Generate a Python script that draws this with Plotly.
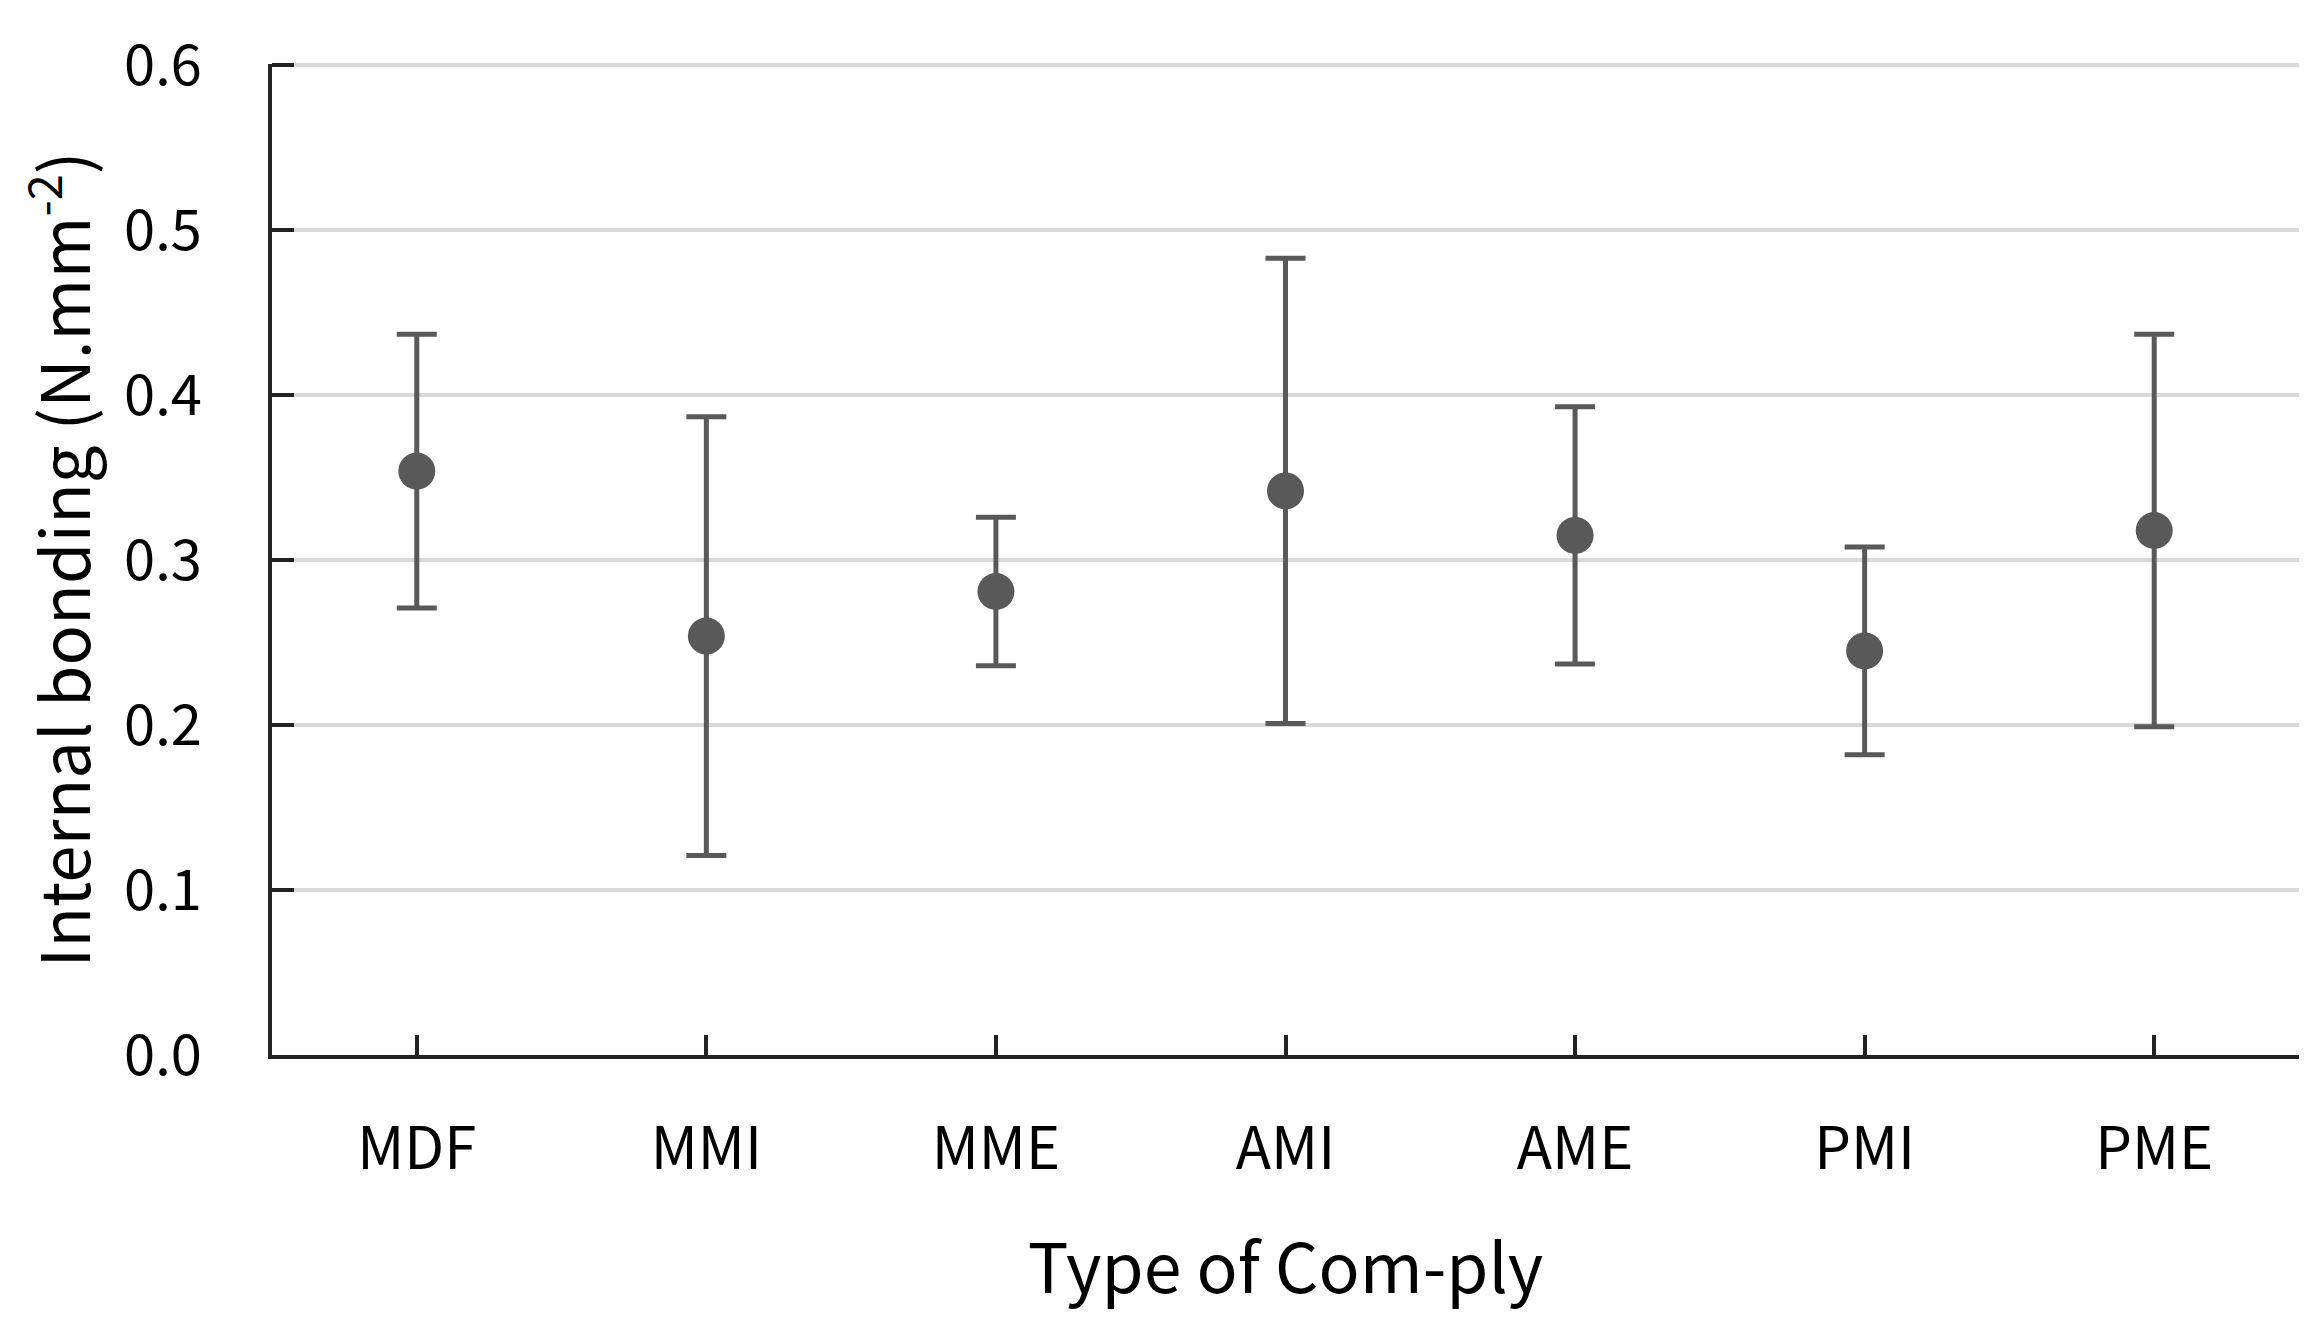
import plotly.graph_objects as go

categories = ["MDF", "MMI", "MME", "AMI", "AME", "PMI", "PME"]
mean_ib = [0.354, 0.254, 0.281, 0.342, 0.315, 0.245, 0.318]
err_ib = [0.083, 0.133, 0.045, 0.141, 0.078, 0.063, 0.119]
y_ticks = [0.0, 0.1, 0.2, 0.3, 0.4, 0.5, 0.6]
y_ticklabels = ["0.0", "0.1", "0.2", "0.3", "0.4", "0.5", "0.6"]

FONT = "Noto Sans CJK KR"
DARK = "#595959"

fig = go.Figure()
fig.add_trace(go.Scatter(
    x=categories, y=mean_ib, mode="markers",
    marker=dict(size=37, color=DARK),
    error_y=dict(type="data", array=err_ib, visible=True,
                 color=DARK, thickness=5, width=20),
    showlegend=False,
))

fig.update_layout(
    width=2310, height=1327,
    margin=dict(l=264, r=19, t=53, b=280),
    paper_bgcolor="white", plot_bgcolor="white",
    font=dict(family=FONT, color="#000000"),
)
fig.update_xaxes(
    type="category", range=[-0.5, 6.5],
    showline=True, linecolor="#222222", linewidth=4,
    ticks="inside", ticklen=20, tickwidth=4, tickcolor="#222222",
    tickfont=dict(size=58, family=FONT),
    ticklabelstandoff=40,
    showgrid=False, zeroline=False,
    title=dict(text="Type of Com-ply", font=dict(size=68, family=FONT), standoff=62),
)
fig.update_yaxes(
    range=[0, 0.6008], tickvals=y_ticks, ticktext=y_ticklabels,
    showline=True, linecolor="#222222", linewidth=4,
    ticks="inside", ticklen=22, tickwidth=4, tickcolor="#222222",
    tickfont=dict(size=56, family=FONT),
    ticklabelstandoff=55,
    showgrid=True, gridcolor="#d9d9d9", gridwidth=4,
    zeroline=False,
    title=dict(text="Internal bonding (N.mm<sup>-2</sup>)", font=dict(size=67, family=FONT), standoff=32),
)

fig.write_html("out.html")
